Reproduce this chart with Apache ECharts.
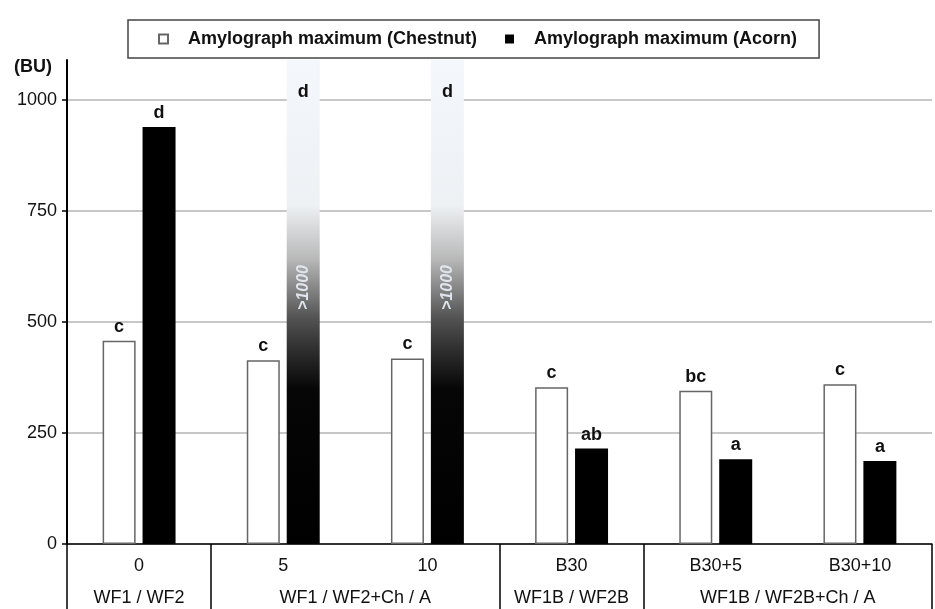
<!DOCTYPE html>
<html>
<head>
<meta charset="utf-8">
<script src="https://cdn.jsdelivr.net/npm/echarts@6/dist/echarts.min.js"></script>
<style>html,body{margin:0;padding:0;background:#fff}#c{width:935px;height:609px}</style>
</head>
<body>
<div id="c"></div>
<script>
// ---- data ----
var CATEGORIES = ['0', '5', '10', 'B30', 'B30+5', 'B30+10'];
var GROUPS = ['WF1 / WF2', 'WF1 / WF2+Ch / A', 'WF1B / WF2B', 'WF1B / WF2B+Ch / A'];
var GROUP_SPANS = [1, 2, 1, 2];
var CHESTNUT = [458, 414, 418, 353, 345, 360];
var ACORN = [939, null, null, 215, 191, 187];          // null = ">1000" (off scale)
var CHESTNUT_LETTERS = ['c', 'c', 'c', 'c', 'bc', 'c'];
var ACORN_LETTERS = ['d', 'd', 'd', 'ab', 'a', 'a'];
var OVERFLOW_TEXT = '>1000';
var Y_TICKS = [0, 250, 500, 750, 1000];
var Y_MIN = 0, Y_MAX = 1090, Y_INTERVAL = 250;
var SERIES_NAMES = ['Amylograph maximum (Chestnut)', 'Amylograph maximum (Acorn)'];

// ---- build ----
var FONT = "'Liberation Sans', Arial, sans-serif";
var gradient = new echarts.graphic.LinearGradient(0, 0, 0, 1, [
  { offset: 0, color: '#f4f7fb' },
  { offset: 0.30, color: '#eef1f4' },
  { offset: 0.41, color: '#b9b9b9' },
  { offset: 0.53, color: '#555555' },
  { offset: 0.59, color: '#333333' },
  { offset: 0.68, color: '#060606' },
  { offset: 1, color: '#000000' }
]);

var acornData = ACORN.map(function (v, i) {
  if (v === null) {
    return {
      value: Y_MAX,
      itemStyle: { color: gradient },
      label: { position: 'insideTop', distance: 23 }
    };
  }
  return { value: v };
});
var overflowData = ACORN.map(function (v) { return v === null ? Y_MAX : '-'; });

// group axis: half-category slots (2 per category), boundaries & centers
var nSlots = CATEGORIES.length * 2;
var groupSlots = [];
for (var s = 0; s <= nSlots; s++) groupSlots.push('');
var boundaries = [0];
var pos = 0;
GROUPS.forEach(function (g, gi) {
  var span = GROUP_SPANS[gi] * 2;
  groupSlots[pos + span / 2] = g;
  pos += span;
  boundaries.push(pos);
});

var option = {
  animation: false,
  backgroundColor: '#fff',
  textStyle: { fontFamily: FONT },
  legend: {
    left: 128, top: 20,
    padding: [9, 22, 9, 30],
    itemGap: 28,
    itemWidth: 9, itemHeight: 9,
    icon: 'rect',
    borderColor: '#444', borderWidth: 1.5,
    backgroundColor: '#fff',
    textStyle: { fontFamily: FONT, fontSize: 18, fontWeight: 'bold', color: '#111', lineHeight: 20, padding: [0, 0, 0, 15] },
    data: SERIES_NAMES
  },
  grid: { left: 67, right: 2, top: 60, bottom: 65, containLabel: false },
  xAxis: [
    {
      type: 'category', data: CATEGORIES,
      axisLine: { lineStyle: { color: '#000', width: 1.5 } },
      axisTick: { show: false },
      axisLabel: { fontFamily: FONT, fontSize: 18, color: '#111', margin: 13, interval: 0 },
      splitLine: { show: false }
    },
    { type: 'category', data: CATEGORIES, show: false },
    {
      type: 'category', data: groupSlots, boundaryGap: false, position: 'bottom',
      axisLine: { show: false },
      axisTick: {
        show: true, length: 66, inside: false,
        interval: function (idx) { return boundaries.indexOf(idx) >= 0; },
        lineStyle: { color: '#000', width: 1.5 }
      },
      axisLabel: { fontFamily: FONT, fontSize: 18, color: '#111', margin: 45, interval: 0 },
      splitLine: { show: false }
    }
  ],
  yAxis: {
    type: 'value', min: Y_MIN, max: Y_MAX, interval: Y_INTERVAL,
    name: '(BU)', nameLocation: 'end', nameGap: 2,
    nameTextStyle: { fontFamily: FONT, fontSize: 18, fontWeight: 'bold', color: '#111', align: 'right', verticalAlign: 'top', padding: [0, 15, 0, 0] },
    axisLine: { show: true, lineStyle: { color: '#000', width: 2 } },
    axisTick: { show: true, length: 5, customValues: Y_TICKS, lineStyle: { color: '#000', width: 1.5 } },
    axisLabel: {
      fontFamily: FONT, fontSize: 18, color: '#111', margin: 10, customValues: Y_TICKS,
      formatter: function (v) { return Y_TICKS.indexOf(v) >= 0 ? String(v) : ''; }
    },
    splitLine: { show: true, lineStyle: { color: '#b5b5b5', width: 1.5 } }
  },
  series: [
    {
      name: SERIES_NAMES[0], type: 'bar', xAxisIndex: 0,
      barWidth: 33, barGap: '21%',
      itemStyle: { color: '#fff', borderColor: '#666', borderWidth: 1.5 },
      label: {
        show: true, position: 'top', distance: 5,
        fontFamily: FONT, fontSize: 18, fontWeight: 'bold', color: '#111',
        formatter: function (p) { return CHESTNUT_LETTERS[p.dataIndex]; }
      },
      data: CHESTNUT
    },
    {
      name: SERIES_NAMES[1], type: 'bar', xAxisIndex: 0,
      barWidth: 33, barGap: '21%',
      itemStyle: { color: '#000' },
      label: {
        show: true, position: 'top', distance: 5,
        fontFamily: FONT, fontSize: 18, fontWeight: 'bold', color: '#111',
        formatter: function (p) { return ACORN_LETTERS[p.dataIndex]; }
      },
      data: acornData
    },
    {
      name: 'spacer', type: 'bar', xAxisIndex: 1,
      barWidth: 33, barGap: '21%', silent: true,
      data: CATEGORIES.map(function () { return '-'; })
    },
    {
      name: 'overflow', type: 'bar', xAxisIndex: 1,
      barWidth: 33, barGap: '21%', silent: true,
      itemStyle: { color: 'rgba(0,0,0,0)' },
      label: {
        show: true, position: ['50%', '47%'], rotate: 90,
        align: 'center', verticalAlign: 'middle',
        fontFamily: FONT, fontSize: 16, fontWeight: 'bold', fontStyle: 'italic', color: '#dfe5ec',
        formatter: function () { return OVERFLOW_TEXT; }
      },
      data: overflowData
    }
  ]
};

var chart = echarts.init(document.getElementById('c'), null, { renderer: 'canvas' });
chart.setOption(option);
</script>
</body>
</html>
